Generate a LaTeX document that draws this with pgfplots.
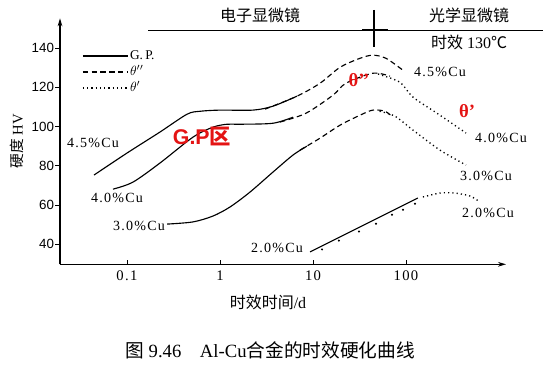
\documentclass[border=0pt]{standalone}
\usepackage{fontspec}
\usepackage{pgfplots}
\pgfplotsset{compat=1.18}
\usetikzlibrary{arrows.meta}
\setmainfont{Liberation Serif}
\setsansfont{Liberation Sans}
\newfontfamily\cjk{Noto Sans CJK SC}
\newfontfamily\lbl[LetterSpace=9]{Liberation Serif}
\definecolor{redtxt}{RGB}{228,20,20}
\tikzset{
  gp/.style={black, line width=0.85pt},
  thpp/.style={black, line width=0.85pt, dash pattern=on 4pt off 2.6pt},
  thp/.style={black, line width=1.0pt, dash pattern=on 0.9pt off 2.3pt},
}
\begin{document}
\begin{tikzpicture}
\path[use as bounding box] (0,0) rectangle (409.5pt,-275.25pt);
\begin{axis}[
  at={(45pt,-198.225pt)}, anchor=south west,
  scale only axis, width=334.5pt, height=184.5pt,
  xmode=log, xmin=0.01905, xmax=1189, ymin=29.8, ymax=155.2,
  axis lines=left,
  axis line style={line width=0.8pt,-{Stealth[length=6pt,width=3.5pt]}},
  xtick={0.1,1,10,100}, xticklabels={0.1,1,10,100},
  ytick={40,60,80,100,120,140}, yticklabels={40,60,80,100,120,140},
  xminorticks=false, yminorticks=false,
  tick align=inside, major tick length=3.5pt,
  tick style={black, line width=0.6pt},
  ytick style={xshift=-3.5pt},
  xticklabel style={font=\lbl\fontsize{11}{12}\selectfont, yshift=-1pt},
  yticklabel style={font=\sffamily\fontsize{10}{12}\selectfont, xshift=-1pt},
  clip=false,
  legend style={at={(0.049,0.875)}, anchor=north west, draw=none, fill=none,
    font=\fontsize{10}{11}\selectfont, inner sep=0pt, row sep=2pt,
    nodes={text height=6.5pt, text depth=1.5pt, inner sep=1pt}},
  legend cell align=left,
  legend image code/.code={\draw[#1] (0pt,0pt) -- (34pt,0pt);},
]
\addlegendimage{gp}
\addlegendentry{G.\,P.}
\addlegendimage{thpp}
\addlegendentry{$\theta''$}
\addlegendimage{thp}
\addlegendentry{$\theta'$}

% 4.5% Cu
\addplot[gp, smooth, tension=0.5, forget plot] coordinates {
 (0.0442,75.3) (0.1,86.5) (0.226,97.2) (0.442,106.3) (0.61,107.8) (1,108.4)
 (2.26,108.4) (3.71,110.4) (6.73,115.5)};
\addplot[thpp, smooth, tension=0.5, forget plot] coordinates {
 (3.05,108.9) (6.73,115.5) (11.9,122.1) (19.5,130.2) (32,134.8) (44,136.4)
 (61,134.8) (92.9,128.7)};

% 4.0% Cu
\addplot[gp, smooth, tension=0.5, forget plot] coordinates {
 (0.0707,68.1) (0.116,71.7) (0.226,81.4) (0.512,94.6) (0.84,99.7) (1.19,101.2)
 (1.64,101.2) (3.71,101.7) (6.1,104.8)};
\addplot[thpp, smooth, tension=0.5, forget plot] coordinates {
 (4.42,102.3) (8.4,106.8) (16.4,116) (22.6,122.1) (44,127.2) (67.3,125.7)};
\addplot[thp, smooth, tension=0.5, forget plot] coordinates {
 (50,126.8) (86,122.6) (119,115) (232,105.8) (442,96.7)};

% 3.0% Cu
\addplot[gp, smooth, tension=0.5, forget plot] coordinates {
 (0.27,50.3) (0.512,51.4) (0.84,54.4) (1.28,59) (2.1,66.6) (3.71,76.8)
 (6.1,85.5) (8.6,90)};
\addplot[thpp, smooth, tension=0.5, forget plot] coordinates {
 (7.25,88) (11.9,94.1) (19.5,100.7) (32,105.8) (44,108.4) (59.5,107.8) (72,104.8)};
\addplot[thp, smooth, tension=0.5, forget plot] coordinates {
 (52,107.8) (76,105.3) (119,98.2) (232,88) (442,80.4)};

% 2.0% Cu
\addplot[gp, forget plot] coordinates {(9.3,36.1) (134,63.6)};
\addplot[only marks, mark=*, mark size=0.55pt, black, forget plot] coordinates {
 (12.5,37.4) (19,41.9) (31.2,46.5) (47.6,50.5) (70.7,55.1) (93,57.6) (125,60.7)};
\addplot[thp, smooth, tension=0.5, forget plot] coordinates {
 (152,64.1) (232,66.1) (336,66.1) (488,64.6) (625,61.5)};
\end{axis}

\begin{scope}[x=0.75pt,y=-0.75pt]
% top bar
\draw[line width=0.6pt] (148,30) -- (543,30);
\draw[line width=1.6pt] (362,30) -- (388,30);
\draw[line width=0.8pt] (374,10) -- (374,47);
\node[font=\cjk\fontsize{12}{14}\selectfont] at (260,15) {电子显微镜};
\node[font=\cjk\fontsize{12}{14}\selectfont] at (469,15) {光学显微镜};
\node[font=\fontsize{12}{14}\selectfont] at (469,42) {{\cjk 时效} 130{\cjk ℃}};
% curve labels
\node[font=\lbl\fontsize{10.5}{12}\selectfont] at (93,143) {4.5\%Cu};
\node[font=\lbl\fontsize{10.5}{12}\selectfont] at (117,198) {4.0\%Cu};
\node[font=\lbl\fontsize{10.5}{12}\selectfont] at (139,226) {3.0\%Cu};
\node[font=\lbl\fontsize{10.5}{12}\selectfont] at (277,248) {2.0\%Cu};
\node[font=\lbl\fontsize{10.5}{12}\selectfont] at (440,72) {4.5\%Cu};
\node[font=\lbl\fontsize{10.5}{12}\selectfont] at (501,138) {4.0\%Cu};
\node[font=\lbl\fontsize{10.5}{12}\selectfont] at (486,176) {3.0\%Cu};
\node[font=\lbl\fontsize{10.5}{12}\selectfont] at (488,213) {2.0\%Cu};
% red annotations
\node[text=redtxt, font=\sffamily\bfseries\fontsize{16}{18}\selectfont] at (202,137) {G.P{\cjk 区}};
\node[text=redtxt, font=\bfseries\fontsize{14}{16}\selectfont] at (359,80) {θ’’};
\node[text=redtxt, font=\bfseries\fontsize{14}{16}\selectfont] at (467,111) {θ’};
% axis titles
\node[rotate=90, font=\fontsize{11}{13}\selectfont] at (17,141) {{\cjk 硬度}\ HV};
\node[font=\fontsize{12}{14}\selectfont] at (268,302) {{\cjk 时效时间}/d};
\node[font=\fontsize{14}{16}\selectfont] at (270,350) {{\cjk 图} 9.46\quad Al-Cu{\cjk 合金的时效硬化曲线}};
\end{scope}
\end{tikzpicture}
\end{document}
